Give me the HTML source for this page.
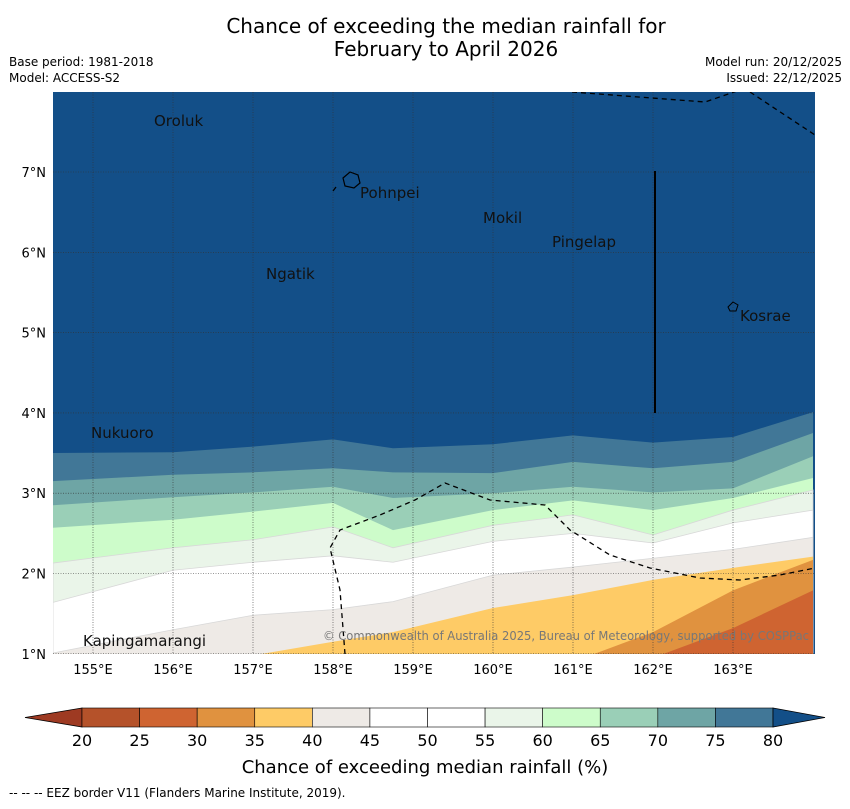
<!DOCTYPE html>
<html><head><meta charset="utf-8">
<style>
body{margin:0;background:#fff;font-family:"Liberation Sans","DejaVu Sans",sans-serif;}
svg text{font-family:"DejaVu Sans","Liberation Sans",sans-serif;}
</style></head>
<body>
<svg id="chart" width="850" height="804" viewBox="0 0 850 804" xmlns="http://www.w3.org/2000/svg">
<text x="446" y="33" font-size="20" text-anchor="middle">Chance of exceeding the median rainfall for</text>
<text x="446" y="56" font-size="20" text-anchor="middle">February to April 2026</text>
<text x="9" y="66" font-size="12">Base period: 1981-2018</text>
<text x="9" y="82" font-size="12">Model: ACCESS-S2</text>
<text x="842" y="66" font-size="12" text-anchor="end">Model run: 20/12/2025</text>
<text x="842" y="82" font-size="12" text-anchor="end">Issued: 22/12/2025</text>
<defs><clipPath id="mapclip"><rect x="53" y="92" width="762" height="562"/></clipPath></defs>
<g id="map" clip-path="url(#mapclip)">
<rect x="53" y="92" width="762" height="562" fill="#134f88"/>
<g id="bands"></g>
<g id="grid"></g>
<path d="M572,92 L705,102 L740,90 M750,92 L815,135 M345,654 L340,590 L330,548 L340,530 L380,515 L415,500 L445,483 L490,500 L545,505 L570,530 L610,555 L650,568 L700,578 L740,580 L780,575 L815,568 M333,191 L336,187" fill="none" stroke="#000" stroke-width="1.3" stroke-dasharray="5,4"/>
<line x1="655" y1="171" x2="655" y2="413" stroke="#000" stroke-width="2"/>
<path d="M343,178 L350,172 L358,175 L360,183 L354,188 L345,186 Z" fill="none" stroke="#000" stroke-width="1.2"/>
<path d="M728,307 L733,302 L738,305 L736,311 L730,311 Z" fill="none" stroke="#000" stroke-width="1"/>
<g font-size="15" fill="#111">
<text x="154" y="126">Oroluk</text>
<text x="360" y="198">Pohnpei</text>
<text x="483" y="223">Mokil</text>
<text x="552" y="247">Pingelap</text>
<text x="266" y="279">Ngatik</text>
<text x="740" y="321">Kosrae</text>
<text x="91" y="438">Nukuoro</text>
<text x="83" y="646">Kapingamarangi</text>
</g>
<text x="323" y="640" font-size="12" fill="#777" textLength="486" lengthAdjust="spacingAndGlyphs">© Commonwealth of Australia 2025, Bureau of Meteorology, supported by COSPPac</text>
</g>
<g id="axes" font-size="14"></g>
<g id="cbar"></g>
<text x="425" y="773" font-size="18" text-anchor="middle">Chance of exceeding median rainfall (%)</text>
<text x="9" y="797" font-size="12">--  --  -- EEZ border V11 (Flanders Marine Institute, 2019).</text>
</svg>
<script>
const lonGrid=[154.5,156,157,158,158.75,160,161,162,163,164];
const thresholds=[80,75,70,65,60,55,45,40,35,30,25];
const b80=[3.50,3.51,3.58,3.67,3.56,3.61,3.72,3.63,3.70,4.01];
const b75=[3.15,3.23,3.26,3.31,3.26,3.25,3.39,3.31,3.39,3.75];
const b70=[2.85,2.95,3.01,3.08,2.94,3.00,3.08,3.01,3.06,3.46];
const b65=[2.57,2.67,2.77,2.88,2.54,2.79,2.91,2.79,2.94,3.19];
const b60=[2.13,2.32,2.42,2.58,2.32,2.60,2.73,2.48,2.79,3.04];
const b55=[1.64,2.04,2.14,2.22,2.14,2.40,2.50,2.38,2.63,2.79];
const b45=[1.01,1.30,1.48,1.55,1.65,1.98,2.08,2.19,2.30,2.45];
const b40=[0.9,0.9,0.98,1.15,1.27,1.57,1.73,1.92,2.07,2.21];
const b35=[0.9,0.9,0.9,0.9,0.9,0.9,0.9,1.27,1.79,2.17];
const b30=[0.9,0.9,0.9,0.9,0.9,0.9,0.9,0.95,1.32,1.79];
const b25=[0.9,0.9,0.9,0.9,0.9,0.9,0.9,0.9,0.9,0.9];
const boundaries=[b80,b75,b70,b65,b60,b55,b45,b40,b35,b30,b25];
const bandColors=["#417797","#6ea5a5","#9acfb7","#cdfcca","#eaf5e9","#ffffff","#eeeae6","#fecb66","#e0923f","#cf6431","#b5522a"];
const cbarLevels=[20,25,30,35,40,45,50,55,60,65,70,75,80];
const cbarColors=["#b5522a","#cf6431","#e0923f","#fecb66","#eeeae6","#ffffff","#ffffff","#eaf5e9","#cdfcca","#9acfb7","#6ea5a5","#417797"];
const lonTicks=[155,156,157,158,159,160,161,162,163];
const latTicks=[1,2,3,4,5,6,7];

const NS="http://www.w3.org/2000/svg";
const xS=lon=>53+(lon-154.5)*80;
const yS=lat=>91.7+(8-lat)*80.3;
function mk(tag,attrs,parent){const e=document.createElementNS(NS,tag);for(const k in attrs)e.setAttribute(k,attrs[k]);parent.appendChild(e);return e;}

const bands=document.getElementById('bands');
boundaries.forEach((b,i)=>{
  let d='M'+xS(lonGrid[0])+','+yS(b[0]);
  for(let j=1;j<lonGrid.length;j++)d+=' L'+xS(lonGrid[j])+','+yS(b[j]);
  d+=' L'+xS(lonGrid[lonGrid.length-1])+',700 L'+xS(lonGrid[0])+',700 Z';
  const p=mk('path',{d:d,fill:bandColors[i],stroke:(thresholds[i]<=60&&thresholds[i]>=45)?'#d8d8d8':'none','stroke-width':0.8},bands);
  
  
});
const grid=document.getElementById('grid');
lonTicks.forEach(l=>{
  const ln=mk('line',{x1:xS(l),x2:xS(l),y1:92,y2:654,stroke:'#333','stroke-width':0.6,'stroke-dasharray':'1,1.5'},grid);
  
  
});
latTicks.forEach(l=>{
  const ln=mk('line',{x1:53,x2:815,y1:yS(l),y2:yS(l),stroke:'#333','stroke-width':0.6,'stroke-dasharray':'1,1.5'},grid);
  
  
});
const axes=document.getElementById('axes');
lonTicks.forEach(l=>{
  const t=mk('text',{x:xS(l),y:674,'text-anchor':'middle','font-size':13},axes);
  t.textContent=l+'°E';
  
  
});
latTicks.forEach(l=>{
  const t=mk('text',{x:46,y:yS(l)+5,'text-anchor':'end','font-size':13},axes);
  t.textContent=l+'°N';
  
  
});
const cbar=document.getElementById('cbar');
const cx0=82,cw=(773-82)/12,cy=708,ch=19;
const lt=mk('path',{d:`M${cx0},${cy} L25,${cy+ch/2} L${cx0},${cy+ch} Z`,fill:'#9e3a22',stroke:'#000','stroke-width':0.8},cbar);


cbarColors.forEach((c,i)=>{
  const r=mk('rect',{x:cx0+i*cw,y:cy,width:cw,height:ch,fill:c,stroke:'#000','stroke-width':0.6},cbar);
  
  
});
const rt=mk('path',{d:`M${cx0+12*cw},${cy} L825,${cy+ch/2} L${cx0+12*cw},${cy+ch} Z`,fill:'#134f88',stroke:'#000','stroke-width':0.8},cbar);


cbarLevels.forEach((v,i)=>{
  const t=mk('text',{x:cx0+i*cw,y:746,'text-anchor':'middle','font-size':16},cbar);
  t.textContent=v;
  
  
});
</script>
</body></html>
